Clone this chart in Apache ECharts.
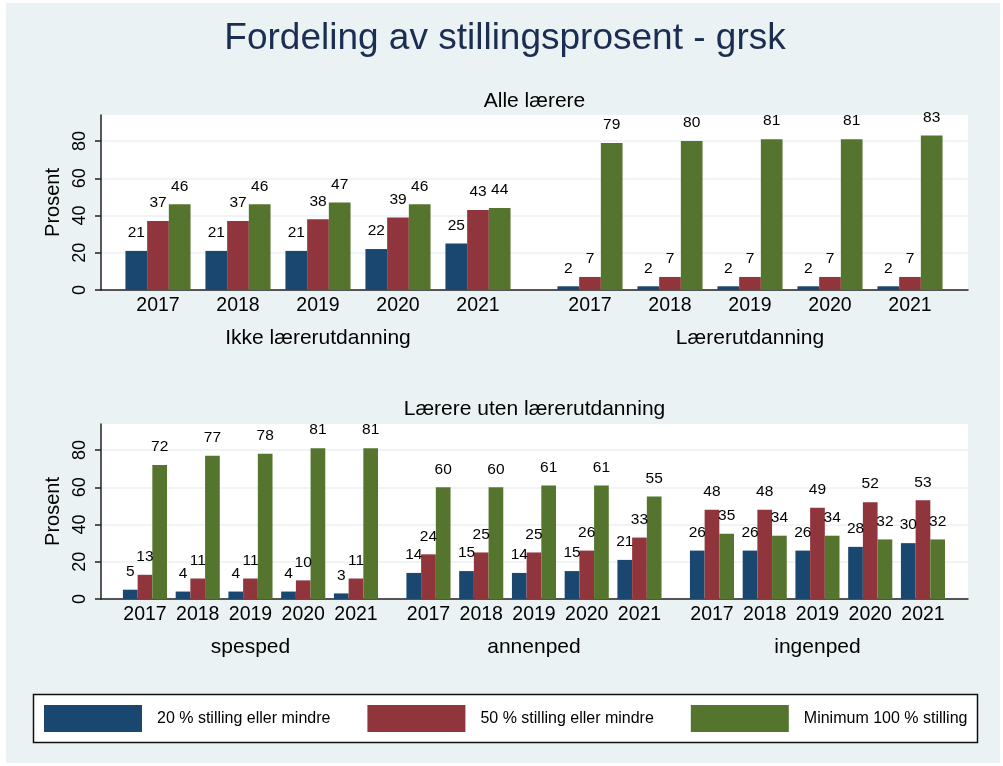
<!DOCTYPE html>
<html>
<head>
<meta charset="utf-8">
<script src="https://cdn.jsdelivr.net/npm/echarts@6/dist/echarts.min.js"></script>
<style>
  body { margin: 0; background: #fff; }
  #chart { width: 1003px; height: 766px; }
</style>
</head>
<body>
<div id="chart"></div>
<script>
// Chart Data
const years = ["2017", "2018", "2019", "2020", "2021"];
const seriesNames = [
  "20 % stilling eller mindre",
  "50 % stilling eller mindre",
  "Minimum 100 % stilling",
];
const yTicks = [0, 20, 40, 60, 80];

// Alle lærere
const ikkeLu20 = [21, 21, 21, 22, 25];
const ikkeLu50 = [37, 37, 38, 39, 43];
const ikkeLu100 = [46, 46, 47, 46, 44];
const lu20 = [2, 2, 2, 2, 2];
const lu50 = [7, 7, 7, 7, 7];
const lu100 = [79, 80, 81, 81, 83];

// Lærere uten lærerutdanning
const spesped20 = [5, 4, 4, 4, 3];
const spesped50 = [13, 11, 11, 10, 11];
const spesped100 = [72, 77, 78, 81, 81];
const annenped20 = [14, 15, 14, 15, 21];
const annenped50 = [24, 25, 25, 26, 33];
const annenped100 = [60, 60, 61, 61, 55];
const ingenped20 = [26, 26, 26, 28, 30];
const ingenped50 = [48, 48, 49, 52, 53];
const ingenped100 = [35, 34, 34, 32, 32];

// Chart Functionalities
const FONT = "'Liberation Sans', Arial, sans-serif";
const BG = "#EAF2F3";
const colors = ["#1A476F", "#90353B", "#55752F"];
const yMax = 94;

const groups = [
  { name: "Ikke lærerutdanning", data: [ikkeLu20, ikkeLu50, ikkeLu100], left: 118, top: 115, width: 400, barWidth: 21.7 },
  { name: "Lærerutdanning", data: [lu20, lu50, lu100], left: 550, top: 115, width: 400, barWidth: 21.7 },
  { name: "spesped", data: [spesped20, spesped50, spesped100], left: 118.6, top: 424, width: 263.75, barWidth: 14.7 },
  { name: "annenped", data: [annenped20, annenped50, annenped100], left: 402.1, top: 424, width: 263.75, barWidth: 14.7 },
  { name: "ingenped", data: [ingenped20, ingenped50, ingenped100], left: 685.6, top: 424, width: 263.75, barWidth: 14.7 },
];
const panels = [
  { top: 115, title: "Alle lærere" },
  { top: 424, title: "Lærere uten lærerutdanning" },
];

const grid = [];
const xAxis = [];
const yAxis = [];
const series = [];

// panel backgrounds with the visible y axis
panels.forEach(function (p) {
  const idx = grid.length;
  grid.push({ left: 101, top: p.top, width: 867, height: 175, show: true, backgroundColor: "#fff", borderWidth: 0 });
  xAxis.push({
    gridIndex: idx, type: "value", min: 0, max: 1,
    axisLine: { show: true, lineStyle: { color: "#222", width: 1.5 } },
    axisTick: { show: false }, axisLabel: { show: false }, splitLine: { show: false },
  });
  yAxis.push({
    gridIndex: idx, type: "value", min: 0, max: yMax, interval: 20,
    name: "Prosent", nameLocation: "middle", nameGap: 29, nameRotate: 90,
    nameTextStyle: { fontSize: 20, color: "#000", fontFamily: FONT },
    axisLine: { show: true, lineStyle: { color: "#222", width: 1.5 } },
    axisTick: { show: true, length: 6, customValues: yTicks, lineStyle: { color: "#222", width: 1.5 } },
    axisLabel: { rotate: 90, fontSize: 18, margin: 12, color: "#000", customValues: yTicks, fontFamily: FONT },
    splitLine: { show: true, lineStyle: { color: BG, width: 1.5 } },
  });
});

groups.forEach(function (g) {
  const idx = grid.length;
  grid.push({ left: g.left, top: g.top, width: g.width, height: 175 });
  xAxis.push({
    gridIndex: idx, type: "category", data: years,
    name: g.name, nameLocation: "middle", nameGap: 38,
    nameTextStyle: { fontSize: 21, color: "#000", fontFamily: FONT },
    axisLine: { show: false }, axisTick: { show: false },
    axisLabel: { interval: 0, fontSize: 19.5, margin: 6, color: "#000", fontFamily: FONT },
  });
  yAxis.push({ gridIndex: idx, type: "value", min: 0, max: yMax, show: false });
  g.data.forEach(function (vals, i) {
    series.push({
      type: "bar",
      name: seriesNames[i],
      xAxisIndex: idx,
      yAxisIndex: idx,
      barWidth: g.barWidth,
      barGap: "0%",
      itemStyle: { color: colors[i] },
      label: { show: true, position: "top", distance: 10, fontSize: 15.5, color: "#000", fontFamily: FONT },
      data: vals,
    });
  });
});

const chart = echarts.init(document.getElementById("chart"), null, { renderer: "canvas" });

const option = {
  animation: false,
  backgroundColor: "#fff",
  textStyle: { fontFamily: FONT },
  title: [
    { text: "Fordeling av stillingsprosent - grsk", left: 505, textAlign: "center", top: 20, padding: 0,
      textStyle: { fontSize: 37, fontWeight: "normal", color: "#1C2D52", fontFamily: FONT } },
    { text: panels[0].title, left: 534.5, textAlign: "center", top: 91, padding: 0,
      textStyle: { fontSize: 21, fontWeight: "normal", color: "#000", fontFamily: FONT } },
    { text: panels[1].title, left: 534.5, textAlign: "center", top: 399, padding: 0,
      textStyle: { fontSize: 21, fontWeight: "normal", color: "#000", fontFamily: FONT } },
  ],
  graphic: [
    { type: "rect", z: -10, silent: true, shape: { x: 6, y: 3, width: 994, height: 760 }, style: { fill: BG } },
    { type: "rect", z: -5, silent: true, shape: { x: 33.5, y: 694.5, width: 944, height: 48 },
      style: { fill: "#fff", stroke: "#111", lineWidth: 1.5 } },
  ],
  legend: {
    left: 44, top: 705, padding: 0,
    icon: "rect", itemWidth: 98, itemHeight: 27, itemGap: 37,
    selectedMode: false,
    data: seriesNames,
    textStyle: { fontSize: 16, color: "#000", width: 170, padding: [0, 0, 0, 10], fontFamily: FONT },
  },
  grid: grid,
  xAxis: xAxis,
  yAxis: yAxis,
  series: series,
};

chart.setOption(option);
</script>
</body>
</html>
